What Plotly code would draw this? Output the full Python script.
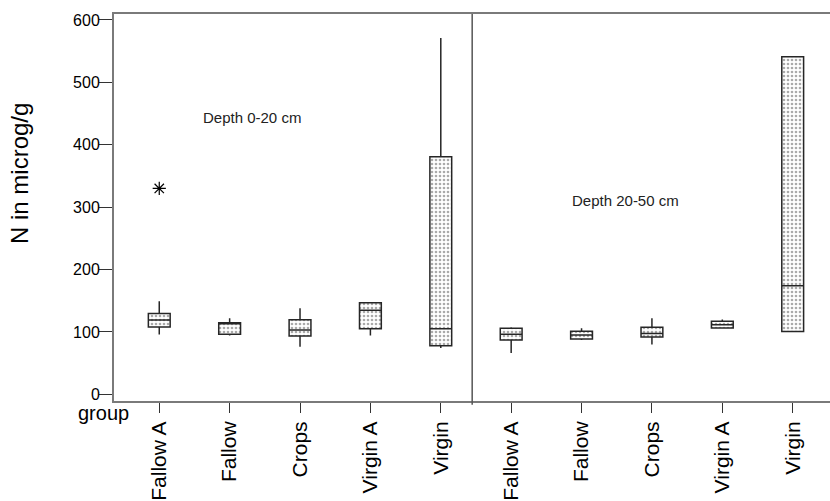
import plotly.graph_objects as go

# Groups shown in each depth panel (left: 0-20 cm, right: 20-50 cm)
groups = ["Fallow A", "Fallow", "Crops", "Virgin A", "Virgin"]

# Five-number summaries, N in microg/g
q1_top = [108, 96.5, 93.4, 105, 78]
median_top = [119, 113, 103.3, 135, 105]
q3_top = [129.7, 114.9, 119.6, 147, 380.7]
low_top = [96, 94.3, 76.4, 94.3, 74.4]
high_top = [149.4, 121.8, 138, 147, 571]

q1_deep = [87, 88.6, 91.8, 106.5, 100.6]
median_deep = [96.5, 95, 97.5, 111.7, 174]
q3_deep = [106, 101.3, 107.6, 117, 541]
low_deep = [66.5, 87, 80, 105, 100.6]
high_deep = [107.6, 106, 121.8, 120, 541]

# Outlier (Fallow A, depth 0-20 cm)
outlier_group = 1
outlier_value = [330]

y_ticks = [0, 100, 200, 300, 400, 500, 600]

labels = groups + groups
xpos = list(range(1, len(labels) + 1))
q1 = q1_top + q1_deep
med = median_top + median_deep
q3 = q3_top + q3_deep
low = low_top + low_deep
high = high_top + high_deep

FONT = "Liberation Sans, Arial, sans-serif"
BOX_W = 0.31

fig = go.Figure()

# stippled fill of the interquartile boxes
fig.add_trace(go.Bar(
    x=xpos, y=[b - a for a, b in zip(q1, q3)], base=q1, width=BOX_W,
    marker=dict(color="white", line=dict(width=0),
                pattern=dict(shape=".", fgcolor="#555555", bgcolor="white",
                             size=4, solidity=0.35)),
    hoverinfo="skip", showlegend=False,
))

# box outlines, medians and whiskers
fig.add_trace(go.Box(
    x=xpos, q1=q1, median=med, q3=q3, lowerfence=low, upperfence=high,
    width=BOX_W, whiskerwidth=0, boxpoints=False,
    fillcolor="rgba(0,0,0,0)", line=dict(color="#262626", width=1.5),
    showlegend=False,
))

fig.add_trace(go.Scatter(
    x=[outlier_group] * len(outlier_value), y=outlier_value, mode="markers",
    marker=dict(symbol="asterisk-open", size=11, color="black",
                line=dict(color="black", width=1.2)),
    showlegend=False,
))

# divider between the two depth panels
fig.add_shape(type="line", xref="x", yref="paper", x0=5.446, x1=5.446, y0=-0.01, y1=1,
              line=dict(color="#555555", width=1.5))

fig.add_annotation(x=2.32, y=443, xref="x", yref="y", text="Depth 0-20 cm",
                   showarrow=False, font=dict(family=FONT, size=15, color="#222222"))
fig.add_annotation(x=7.62, y=310, xref="x", yref="y", text="Depth 20-50 cm",
                   showarrow=False, font=dict(family=FONT, size=15, color="#222222"))
fig.add_annotation(x=0.024, y=-0.03, xref="paper", yref="paper", text="group",
                   xanchor="right", yanchor="middle", showarrow=False,
                   font=dict(family=FONT, size=20, color="black"))
# y-axis title
fig.add_annotation(x=-0.131, y=0.587, xref="paper", yref="paper", text="N in microg/g",
                   textangle=-90, xanchor="center", yanchor="middle", showarrow=False,
                   font=dict(family=FONT, size=24, color="black"))

fig.update_layout(
    width=830, height=501,
    margin=dict(l=114, r=0, t=14, b=95),
    paper_bgcolor="white", plot_bgcolor="white",
    barmode="overlay",
    font=dict(family=FONT, color="black"),
    xaxis=dict(
        range=[0.357, 10.53], tickmode="array", tickvals=xpos, ticktext=labels,
        tickangle=-90, ticks="outside", ticklen=10, tickwidth=1, tickcolor="#333333",
        showline=True, linecolor="#7a7a7a", linewidth=2, mirror=True,
        showgrid=False, zeroline=False, tickfont=dict(family=FONT, size=21),
    ),
    yaxis=dict(
        range=[-10.6, 609.5], tickmode="array", tickvals=y_ticks,
        ticks="outside", ticklen=13, tickwidth=1, tickcolor="#333333",
        ticklabelstandoff=-4,
        showline=True, linecolor="#7a7a7a", linewidth=2, mirror=False,
        showgrid=False, zeroline=False, tickfont=dict(family=FONT, size=16),
    ),
)

fig.write_html("out.html")
